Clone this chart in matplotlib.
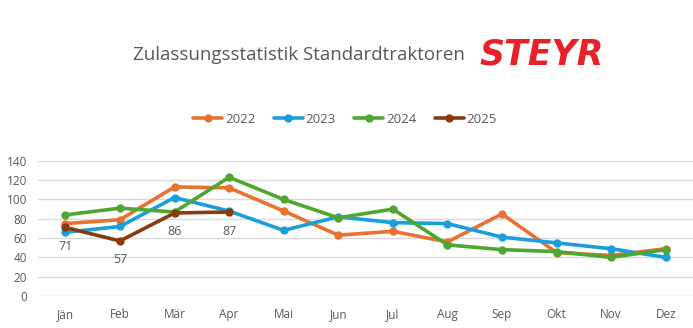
import matplotlib.pyplot as plt

months = ['Jän', 'Feb', 'Mär', 'Apr', 'Mai', 'Jun', 'Jul', 'Aug', 'Sep', 'Okt', 'Nov', 'Dez']
y2022 = [75, 79, 113, 112, 88, 63, 67, 56, 85, 45, 42, 49]
y2023 = [66, 72, 102, 88, 68, 82, 76, 75, 61, 55, 49, 40]
y2024 = [84, 91, 87, 123, 100, 81, 90, 53, 48, 46, 40, 48]
y2025 = [71, 57, 86, 87]

series = [('2022', y2022, '#E97132'),
          ('2023', y2023, '#1A9FDB'),
          ('2024', y2024, '#4EA72E'),
          ('2025', y2025, '#8B3A0E')]

plt.rcParams['font.family'] = ['Open Sans', 'DejaVu Sans']
grey = '#595959'

fig = plt.figure(figsize=(6.93, 3.28), dpi=100)
ax = fig.add_axes([0.055, 0.0976, 0.945, 0.412])

x = list(range(len(months)))
for name, vals, col in series:
    ax.plot(x[:len(vals)], vals, color=col, lw=2.6, marker='o', ms=5,
            label=name, solid_capstyle='round', zorder=3)

# value labels under the current year
for i, v in enumerate(y2025):
    ax.annotate(str(v), (i, v), xytext=(0, -9), textcoords='offset points',
                ha='center', va='top', fontsize=9, color=grey)

ax.set_xlim(-0.5, 11.5)
ax.set_ylim(0, 140)
ax.set_yticks(range(0, 141, 20))
ax.set_xticks(x)
ax.set_xticklabels(months)
ax.grid(axis='y', color='#d9d9d9', lw=1)
ax.set_axisbelow(True)
for s in ax.spines.values():
    s.set_visible(False)
ax.tick_params(length=0, colors=grey, labelsize=8.5)
ax.tick_params(axis='x', pad=9)
ax.tick_params(axis='y', pad=8)

fig.text(0.432, 0.832, 'Zulassungsstatistik Standardtraktoren', ha='center',
         va='center', fontsize=13.5, color=grey)
fig.text(0.692, 0.835, 'STEYR', ha='left', va='center', fontsize=25,
         color='#E8202A', fontweight='heavy', style='italic',
         family=['DejaVu Sans'])

fig.legend(loc='center', bbox_to_anchor=(0.498, 0.637), ncol=4, frameon=False,
           fontsize=9.5, labelcolor=grey, handlelength=2.2, handletextpad=0.2,
           columnspacing=1.4)

fig.savefig('out.png', dpi=100)
